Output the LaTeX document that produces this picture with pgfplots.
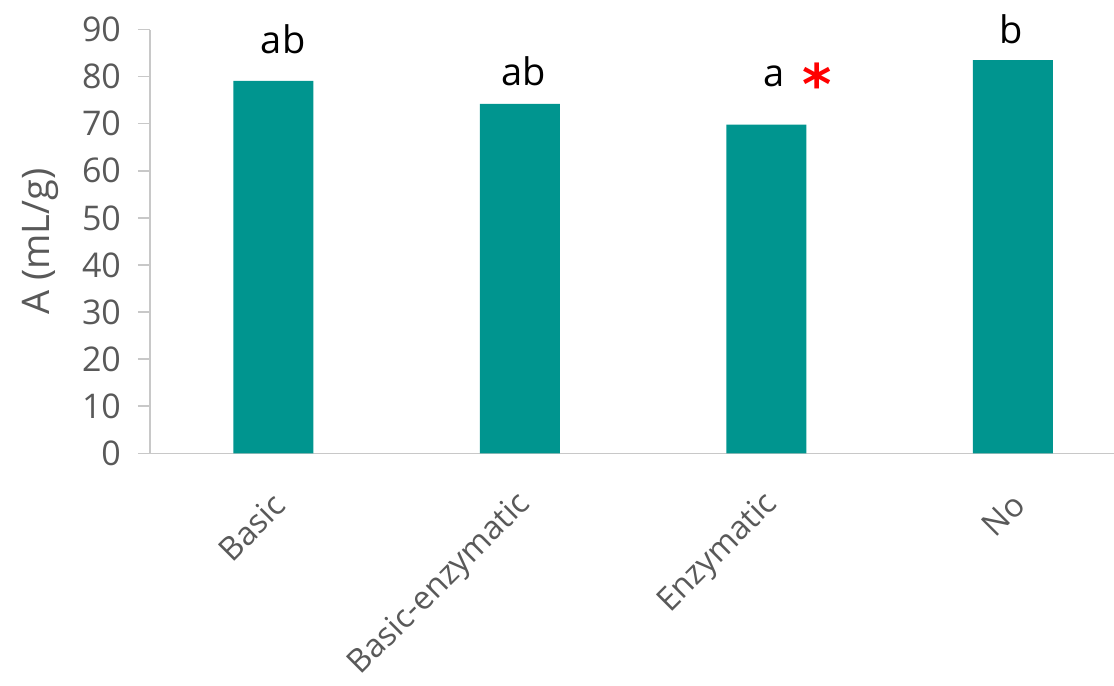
\documentclass[border=0pt]{standalone}
\usepackage{pgfplots}
\pgfplotsset{compat=1.18}
\usepackage{fontspec}
\setmainfont{Open Sans}
\newfontfamily\symfont{DejaVu Sans}

\definecolor{barteal}{HTML}{00958F}
\definecolor{ticktext}{HTML}{595959}
\definecolor{axisgrey}{HTML}{C8C8C8}

\begin{document}
\begin{tikzpicture}[x=1pt,y=1pt]
\useasboundingbox (-75,-116) rectangle (482,226.65);
\begin{axis}[
  at={(0,0)}, anchor=south west,
  scale only axis,
  width=482pt, height=211.9pt,
  xmin=-0.5, xmax=3.41,
  ymin=0, ymax=90,
  axis x line=bottom, axis y line=left,
  axis line style={draw=axisgrey, line width=0.8pt, -},
  xtick={0,1,2,3},
  xticklabels={Basic, Basic-enzymatic, Enzymatic, No},
  x tick style={draw=none},
  ytick={0,10,...,90},
  y tick style={draw=axisgrey, line width=0.8pt},
  tick align=outside,
  major tick length=6pt,
  ticklabel style={text=ticktext},
  yticklabel style={font=\fontsize{17}{20}\selectfont, xshift=-5pt},
  xticklabel style={font=\fontsize{16.2}{19}\selectfont, rotate=45, anchor=east, yshift=-14.2pt, xshift=-6.5pt},
  /pgf/number format/assume math mode=true,
  ylabel={A (mL/g)},
  ylabel style={font=\fontsize{19}{22}\selectfont, text=ticktext},
  ylabel shift=5pt,
  clip=false,
]
\addplot[ybar, bar width=40pt, fill=barteal, draw=none]
  coordinates {(0,79.1) (1,74.2) (2,69.8) (3,83.5)};

% significance letters
\node[anchor=base, font=\fontsize{19}{23}\selectfont] at (axis cs:0.04,85.0) {ab};
\node[anchor=base, font=\fontsize{19}{23}\selectfont] at (axis cs:1.016,78.2) {ab};
\node[anchor=base, font=\fontsize{19}{23}\selectfont] at (axis cs:2.032,77.8) {a};
\node[anchor=base, font=\fontsize{19}{23}\selectfont] at (axis cs:2.992,87.1) {b};
\node[anchor=north, inner sep=0pt, text=red, font=\symfont\bfseries\fontsize{28}{28}\selectfont] at (axis cs:2.205,83.0) {*};
\end{axis}
\end{tikzpicture}
\end{document}
